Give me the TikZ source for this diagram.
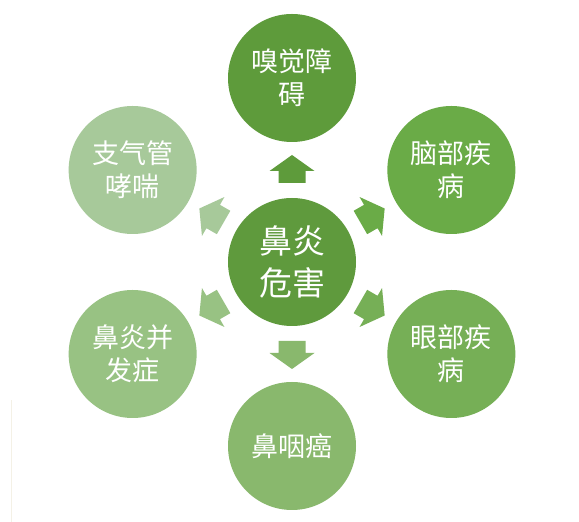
\documentclass[tikz,border=0pt]{standalone}
\usepackage{fontspec}
\usetikzlibrary{calc}
\newfontfamily\cjk{Noto Sans CJK SC}
\definecolor{cC}{HTML}{5F9A3D}
\definecolor{cT}{HTML}{5E9B3B}
\definecolor{cTR}{HTML}{6AAB47}
\definecolor{cBR}{HTML}{76AF56}
\definecolor{cB}{HTML}{89B86D}
\definecolor{cBL}{HTML}{98C283}
\definecolor{cTL}{HTML}{A7C99A}
\definecolor{faint}{HTML}{F4F1E6}
\tikzset{
  outer/.style={circle, minimum size=128pt, inner sep=0pt, text=white, align=center,
    font=\cjk\fontsize{27}{33}\selectfont},
  centre/.style={circle, minimum size=128pt, inner sep=0pt, text=white, align=center,
    font=\cjk\fontsize{33}{42}\selectfont, fill=cC},
}
\begin{document}
\begin{tikzpicture}[x=1pt,y=1pt]
\useasboundingbox (0,0) rectangle (579,522);
\fill[white] (0,0) rectangle (579,522);
\draw[faint, line width=1pt] (11,0) -- (11,122);
\coordinate (o) at (292,260);
\node[centre] (c) at (o) {鼻炎\\危害};
\node[outer, fill=cT]  (t)  at ($(o)+(90:184)$)  {嗅觉障\\碍};
\node[outer, fill=cTR] (tr) at ($(o)+(30:184)$)  {脑部疾\\病};
\node[outer, fill=cBR] (br) at ($(o)+(-30:184)$) {眼部疾\\病};
\node[outer, fill=cB]  (b)  at ($(o)+(-90:184)$) {鼻咽癌};
\node[outer, fill=cBL] (bl) at ($(o)+(-150:184)$) {鼻炎并\\发症};
\node[outer, fill=cTL] (tl) at ($(o)+(150:184)$) {支气管\\哮喘};
\foreach \a/\col in {90/cT,30/cTR,-30/cBR,-90/cB,-150/cBL,150/cTL}{
  \fill[\col, shift={(c.center)}, rotate=\a]
    (79,-13.5) -- (91,-13.5) -- (91,-22.5) -- (107,0) -- (91,22.5) -- (91,13.5) -- (79,13.5) -- cycle;
}
\end{tikzpicture}
\end{document}
